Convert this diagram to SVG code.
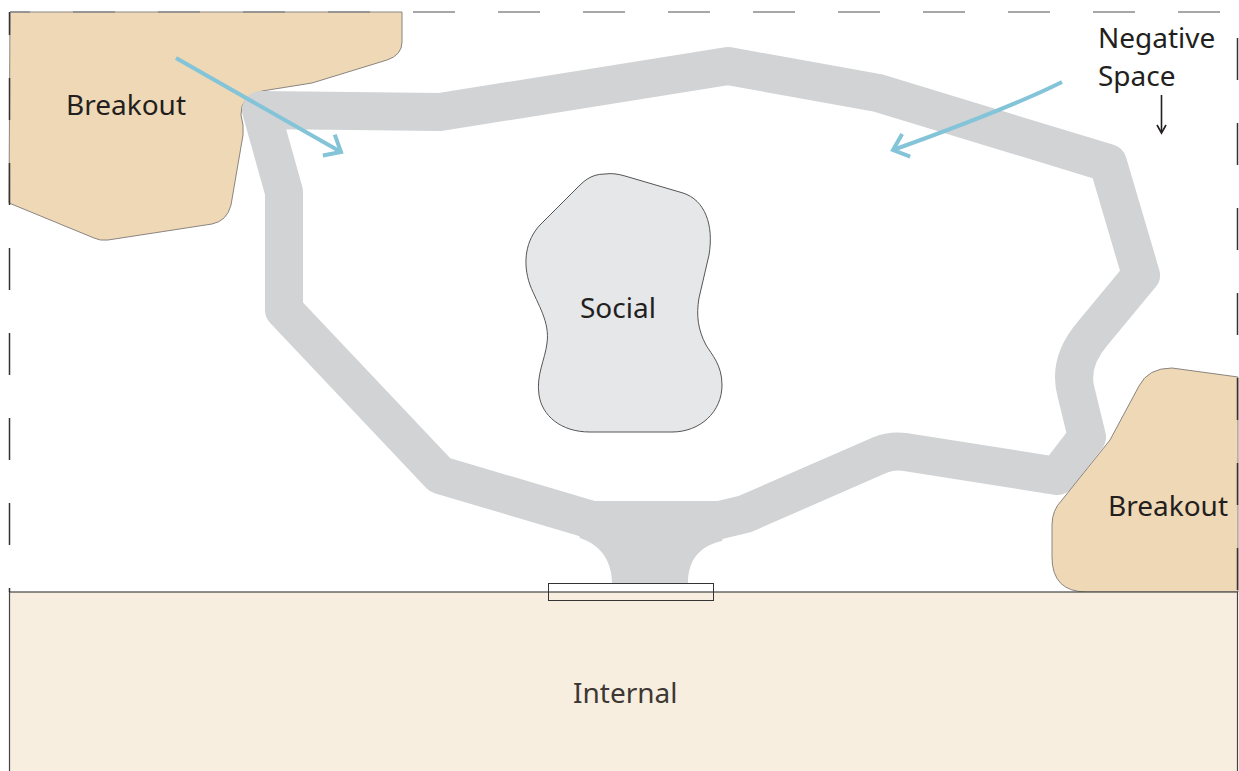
<svg xmlns="http://www.w3.org/2000/svg" width="1239" height="771" viewBox="0 0 1239 771">
<style>
.zone{fill:#efd8b6;stroke:#8a8580;stroke-width:1}
.lbl{font-family:"Noto Sans","Open Sans",sans-serif;font-size:28px;fill:#231f20}
.ring{fill:none;stroke:#d1d3d5;stroke-width:38;stroke-linejoin:round;stroke-linecap:round}
.blue{fill:none;stroke:#84c4d8;stroke-width:4}
.frame{fill:none;stroke-width:1.5;stroke-dasharray:42 43}
</style>
<defs>
<marker id="chev" markerUnits="userSpaceOnUse" viewBox="-20 -20 30 40" refX="0" refY="0" markerWidth="30" markerHeight="40" orient="auto" overflow="visible">
<path d="M -14 -12 L 0 0 L -14 12" fill="none" stroke="#84c4d8" stroke-width="4"/>
</marker>
</defs>
<rect x="0" y="0" width="1239" height="771" fill="#ffffff"/>
<g id="breakout-left">
<path class="zone" d="M 10 12 L 402 12 L 402 42 Q 402 55 387 60 L 312 83 L 262 91 Q 240 96 241 115 Q 244 125 243 135 L 231 205 Q 227 221 212 224 L 108 240 Q 100 241 94 238 L 9 203 Z"/>
<text class="lbl" x="66" y="115">Breakout</text>
</g>
<g id="connectors">
<path class="ring" d="M 261 110 L 440 112 L 728 66 L 878 93 L 1108 163 L 1141 275 L 1093 333 Q 1068 362 1076 392 L 1087 437 L 1057 476 L 905 452 Q 892 450 880 455 L 745 514 L 720 520 L 592 520 L 440 475 L 284 310 L 284 192 Z"/>
<path d="M 570 512 L 580 538 C 604 546 612 565 612 583 L 688 583 C 688 562 698 546 722 541 L 730 512 Z" fill="#d1d3d5"/>
</g>
<g id="breakout-right">
<path class="zone" d="M 1238 377 L 1238 592 L 1087 592 Q 1052 592 1052 557 L 1052 525 Q 1052 510 1062 500 L 1110 440 L 1139 386 Q 1148 368 1172 368 Z"/>
<text class="lbl" x="1108" y="516">Breakout</text>
</g>
<g id="social">
<path d="M 605 174 C 590 174 583 182 575 190 L 540 225 C 526 240 522 262 530 285 C 538 305 550 322 547 343 C 545 360 536 375 539 395 C 542 415 560 432 590 432 L 672 432 C 700 432 722 412 722 385 C 722 365 712 355 706 345 C 698 330 696 315 699 298 L 709 255 C 714 225 705 200 683 193 L 625 176 C 618 174 612 173 605 174 Z" fill="#e6e7e8" stroke="#555555" stroke-width="1"/>
<text class="lbl" x="580" y="318">Social</text>
</g>
<g id="internal">
<rect x="9.5" y="592" width="1228" height="180" fill="#f8eee0" stroke="#444444" stroke-width="1.2"/>
<text class="lbl" x="573" y="703" style="fill:#3d3833">Internal</text>
</g>
<g id="entrance">
<rect x="548.5" y="583.5" width="165" height="17" fill="none" stroke="#333333" stroke-width="1"/>
</g>
<g id="frame">
<line class="frame" x1="10" y1="12" x2="1239" y2="12" stroke="#8a8a8a" stroke-dashoffset="22"/>
<line class="frame" x1="1237.5" y1="12" x2="1237.5" y2="592" stroke="#333333" stroke-dashoffset="59"/>
<line class="frame" x1="9.5" y1="12" x2="9.5" y2="592" stroke="#333333" stroke-dashoffset="19"/>
</g>
<g id="negative-space">
<path class="blue" d="M 176 58 L 341 152" marker-end="url(#chev)"/>
<path class="blue" d="M 1062 82 Q 1010 108 893 150" marker-end="url(#chev)"/>
<text class="lbl" x="1098" y="48">Negative</text>
<text class="lbl" x="1098" y="86">Space</text>
<line x1="1161.5" y1="95" x2="1161.5" y2="132" stroke="#231f20" stroke-width="1.6"/>
<path d="M 1157 125 L 1161.5 133 L 1166 125" fill="none" stroke="#231f20" stroke-width="1.6"/>
</g>
</svg>
